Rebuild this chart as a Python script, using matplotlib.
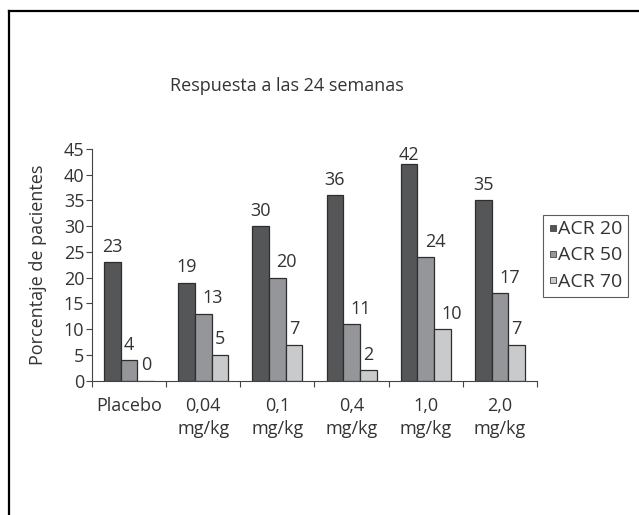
import matplotlib
matplotlib.use("Agg")
import matplotlib.pyplot as plt
import numpy as np
from matplotlib.lines import Line2D

plt.rcParams['font.family'] = ['Open Sans', 'DejaVu Sans']

categories = ["Placebo", "0,04\nmg/kg", "0,1\nmg/kg", "0,4\nmg/kg", "1,0\nmg/kg", "2,0\nmg/kg"]
series_names = ["ACR 20", "ACR 50", "ACR 70"]
acr20 = [23, 19, 30, 36, 42, 35]
acr50 = [4, 13, 20, 11, 24, 17]
acr70 = [0, 5, 7, 2, 10, 7]
y_ticks = [0, 5, 10, 15, 20, 25, 30, 35, 40, 45]

colors = ["#555658", "#95969a", "#c9cacc"]
edge = "#2e2e2e"
text_color = "#333333"
fs = 13

fig = plt.figure(figsize=(6.39, 5.15), dpi=100)
fig.patch.set_facecolor("white")

# outer frame (top and left edges)
fig.add_artist(Line2D([9/639, 1.0], [1 - 11/515, 1 - 11/515], color="black", lw=1.6,
                      transform=fig.transFigure))
fig.add_artist(Line2D([9/639, 9/639], [0.0, 1 - 11/515], color="black", lw=1.6,
                      transform=fig.transFigure))

ax = fig.add_axes([92/639, 1 - 380.7/515, (537 - 92)/639, (380.7 - 149)/515])
ax.set_xlim(-0.5, len(categories) - 0.5)
ax.set_ylim(0, 45)

x = np.arange(len(categories))
w = 0.225
gap_px = 10.5        # space between bar top and label baseline
digit_h_px = 13.3    # approximate height of the digits
axes_top_px = ax.transAxes.transform((0, 1))[1]
for i, (vals, c) in enumerate(zip([acr20, acr50, acr70], colors)):
    pos = x + (i - 1) * w
    ax.bar(pos, vals, width=w, color=c, edgecolor=edge, linewidth=0.9,
           label=series_names[i], zorder=2)
    for p, v in zip(pos, vals):
        bar_top_px = ax.transData.transform((p, v))[1]
        # keep the label inside the plot area
        off = min(gap_px, axes_top_px + 2 - digit_h_px - bar_top_px)
        # two-digit labels of the narrower series start at the bar centre
        ha = "left" if (i > 0 and v >= 10) else "center"
        dx = -1 if ha == "left" else 0
        ax.annotate(str(v), (p, v), xytext=(dx, off), textcoords="offset pixels",
                    ha=ha, va="baseline", fontsize=fs, color=text_color,
                    annotation_clip=False)

ax.set_yticks(y_ticks)
ax.tick_params(axis="y", direction="out", length=4, width=0.8, pad=1.5,
               labelsize=fs, colors="#444444", labelcolor=text_color)

ax.set_xticks(x)
ax.set_xticklabels(categories, fontsize=fs, color=text_color, va="top", linespacing=1.35)
ax.tick_params(axis="x", length=0, pad=12)
ax.set_xticks(np.arange(-0.5, len(categories)), minor=True)
ax.tick_params(axis="x", which="minor", direction="out", length=4, width=0.8, colors="#444444")

for s in ["top", "right"]:
    ax.spines[s].set_visible(False)
for s in ["left", "bottom"]:
    ax.spines[s].set_color("#444444")
    ax.spines[s].set_linewidth(0.8)

ax.set_ylabel("Porcentaje de pacientes", fontsize=fs, color=text_color, labelpad=12)

fig.text(287/639, 1 - 86/515, "Respuesta a las 24 semanas", ha="center", va="center",
         fontsize=fs, color=text_color)

handles = [plt.Line2D([], [], marker="s", linestyle="none", markersize=4.5,
                      markerfacecolor=c, markeredgecolor="#555555", markeredgewidth=0.7)
           for c in colors]
leg = fig.legend(handles, series_names, loc="upper left",
                 bbox_to_anchor=(543/639, 1 - 214.5/515), fontsize=14,
                 frameon=True, fancybox=False, edgecolor="#333333",
                 handlelength=0.4, handletextpad=0.05, borderpad=0.3,
                 labelspacing=0.42, borderaxespad=0, labelcolor=text_color)
leg.get_frame().set_linewidth(0.8)

fig.savefig("out.png", dpi=100)
